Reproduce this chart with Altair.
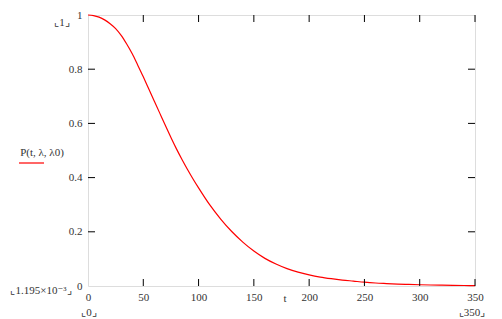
import altair as alt
import pandas as pd

t_vals = [0, 5, 10, 15, 20, 25, 30, 35, 40, 45, 50, 55, 60, 65, 70, 75, 80, 85, 90, 95,
          100, 110, 120, 130, 140, 150, 160, 170, 180, 190, 200, 210, 220, 230, 240,
          250, 260, 270, 280, 290, 300, 310, 320, 330, 340, 350]
p_vals = [1.000, 0.998, 0.992, 0.982, 0.968, 0.950, 0.925, 0.893, 0.857, 0.815,
          0.772, 0.727, 0.682, 0.637, 0.592, 0.548, 0.506, 0.467, 0.430, 0.395,
          0.362, 0.300, 0.247, 0.201, 0.162, 0.129, 0.102, 0.081, 0.064, 0.051,
          0.041, 0.033, 0.027, 0.022, 0.018, 0.014, 0.011, 0.009, 0.0072, 0.0058,
          0.0047, 0.0037, 0.0030, 0.0024, 0.0018, 0.0012]
x_ticks = [0, 50, 100, 150, 200, 250, 300, 350]
y_ticks = [0, 0.2, 0.4, 0.6, 0.8, 1]

W, H = 387, 271
FONT = "Liberation Serif, Times New Roman, DejaVu Serif, serif"

df = pd.DataFrame({"t": t_vals, "P": p_vals})
xt = pd.DataFrame({"x": x_ticks[1:]})
yt = pd.DataFrame({"y": y_ticks[1:-1]})

xs = alt.Scale(domain=[0, 350], nice=False, zero=False)
ys = alt.Scale(domain=[0, 1], nice=False, zero=False)

line = alt.Chart(df).mark_line(color="#ff0000", strokeWidth=1.2, interpolate="monotone").encode(
    x=alt.X("t:Q", scale=xs, axis=alt.Axis(values=x_ticks, title=None, domain=False, ticks=False,
                                           labelFont=FONT, labelFontSize=11, labelColor="#333",
                                           labelPadding=5, format="d", labelFlush=False, grid=False)),
    y=alt.Y("P:Q", scale=ys, axis=alt.Axis(values=y_ticks, title=None, domain=False, ticks=False,
                                           labelFont=FONT, labelFontSize=11, labelColor="#333",
                                           labelPadding=6, labelFlush=False, grid=False,
                                           format="~g")),
)

tick_bottom = alt.Chart(xt).mark_rule(color="black", strokeWidth=1).encode(
    x=alt.X("x:Q", scale=xs), y=alt.value(H), y2=alt.value(H - 7))
tick_top = alt.Chart(xt).mark_rule(color="black", strokeWidth=1).encode(
    x=alt.X("x:Q", scale=xs), y=alt.value(0), y2=alt.value(7))
tick_left = alt.Chart(yt).mark_rule(color="black", strokeWidth=1).encode(
    y=alt.Y("y:Q", scale=ys), x=alt.value(0), x2=alt.value(7))
tick_right = alt.Chart(yt).mark_rule(color="black", strokeWidth=1).encode(
    y=alt.Y("y:Q", scale=ys), x=alt.value(W), x2=alt.value(W - 7))

def txt(s, x, y, size=11, align="center", color="#333"):
    return alt.Chart(pd.DataFrame({"s": [s]})).mark_text(
        font=FONT, fontSize=size, align=align, baseline="middle", color=color
    ).encode(text="s:N", x=alt.value(x), y=alt.value(y))

labels = [
    txt("⌞1⌟", -26, 8),
    txt("⌞1.195×10⁻³⌟", -47, 276),
    txt("⌞0⌟", 1, 298),
    txt("⌞350⌟", 384, 298),
    txt("t", 197, 284),
    txt("P(t, λ, λ0)", -46, 138),
]
underline = alt.Chart(pd.DataFrame({"a": [0]})).mark_rule(color="#ff0000", strokeWidth=1.2).encode(
    x=alt.value(-69), x2=alt.value(-44), y=alt.value(148))

chart = alt.layer(line, tick_bottom, tick_top, tick_left, tick_right, underline, *labels).properties(
    width=W, height=H,
    autosize=alt.AutoSizeParams(type="none"),
    padding={"left": 88, "top": 15, "right": 27, "bottom": 33},
).configure_view(stroke="black", strokeWidth=1.2).configure(background="white")

chart.save("out.html", embed_options={"renderer": "svg", "actions": False})
